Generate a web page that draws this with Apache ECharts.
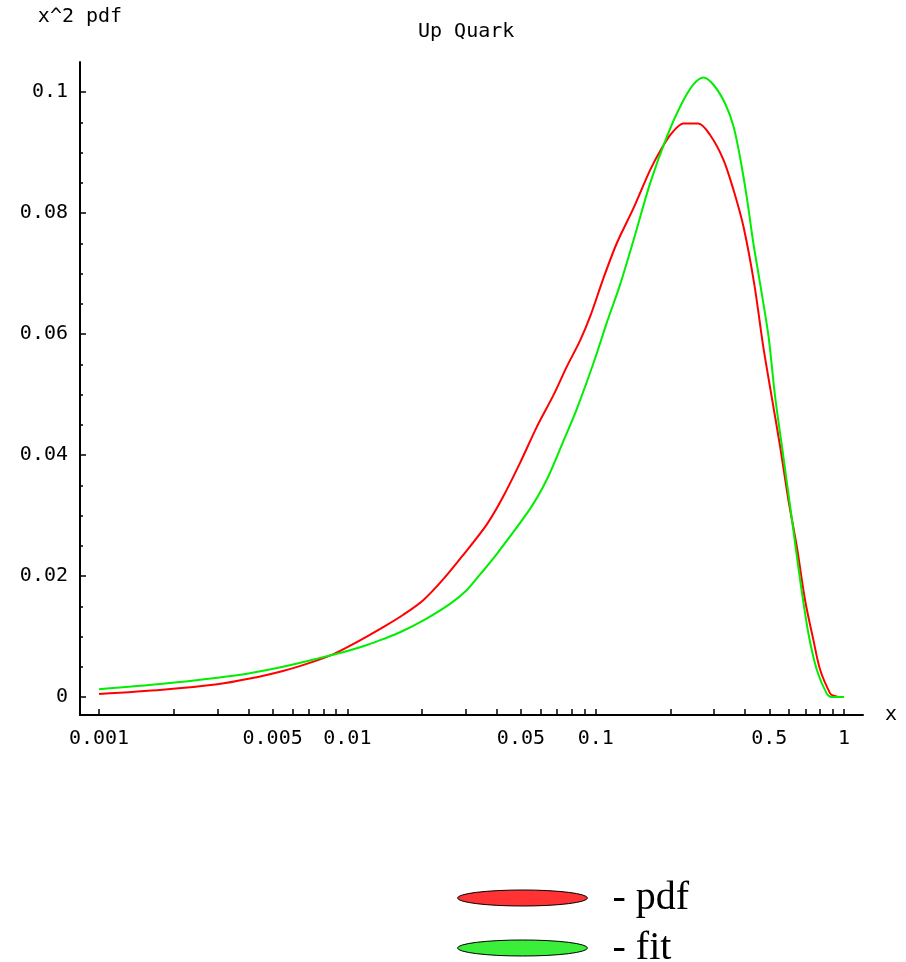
<!DOCTYPE html>
<html>
<head>
<meta charset="utf-8">
<script src="https://cdn.jsdelivr.net/npm/echarts@6/dist/echarts.min.js"></script>
<style>
html,body{margin:0;padding:0;background:#fff;}
#chart{width:906px;height:962px;}
</style>
</head>
<body>
<div id="chart"></div>
<script>
// ---- data ----
const titleText = 'Up Quark';
const yName = 'x^2 pdf';
const xName = 'x';
const seriesNames = ['pdf', 'fit'];

const pdfX = [0.001, 0.0018, 0.003, 0.004, 0.0055, 0.007, 0.0088, 0.0104, 0.014, 0.0168, 0.0202, 0.0245, 0.0293, 0.0364, 0.042, 0.0496, 0.058, 0.0676, 0.0765, 0.0865, 0.095, 0.1074, 0.1216, 0.142, 0.1656, 0.1845, 0.2024, 0.2255, 0.259, 0.289, 0.327, 0.359, 0.394, 0.435, 0.473, 0.5115, 0.553, 0.597, 0.646, 0.697, 0.753, 0.8015, 0.879, 0.906, 0.95];
const pdfY = [0.0005, 0.0012, 0.0021, 0.003, 0.0043, 0.0056, 0.0071, 0.0086, 0.0116, 0.0136, 0.016, 0.0196, 0.0235, 0.0285, 0.0328, 0.0387, 0.0447, 0.0499, 0.0546, 0.0589, 0.0629, 0.0692, 0.075, 0.0808, 0.0871, 0.0907, 0.0932, 0.0948, 0.0948, 0.0929, 0.0888, 0.0838, 0.0777, 0.0683, 0.0579, 0.0496, 0.0414, 0.0326, 0.0248, 0.016, 0.0094, 0.0045, 0.0006, 0.0002, 0];

const fitX = [0.001, 0.0018, 0.003, 0.004, 0.0055, 0.0075, 0.01, 0.012, 0.014, 0.0163, 0.0205, 0.0259, 0.0303, 0.0343, 0.0387, 0.0544, 0.0635, 0.0741, 0.0839, 0.098, 0.1107, 0.125, 0.142, 0.1656, 0.1933, 0.219, 0.247, 0.2716, 0.298, 0.332, 0.359, 0.381, 0.4056, 0.4315, 0.459, 0.4966, 0.528, 0.57, 0.617, 0.666, 0.719, 0.777, 0.851, 0.891, 1.0];
const fitY = [0.0013, 0.0022, 0.0032, 0.0039, 0.005, 0.0063, 0.0076, 0.0086, 0.0096, 0.0107, 0.0128, 0.0154, 0.0177, 0.0203, 0.0229, 0.0311, 0.0359, 0.0423, 0.0476, 0.0552, 0.0618, 0.068, 0.0755, 0.0849, 0.0926, 0.0976, 0.1012, 0.1024, 0.1012, 0.0981, 0.0943, 0.0893, 0.0827, 0.075, 0.0684, 0.0596, 0.0496, 0.0397, 0.0293, 0.0193, 0.0105, 0.0045, 0.0006, 0, 0];

// tick labels / tick positions
const xLabelValues = [0.001, 0.005, 0.01, 0.05, 0.1, 0.5, 1];
const xTickValues = [0.001, 0.002, 0.003, 0.004, 0.005, 0.006, 0.007, 0.008, 0.009,
                     0.01, 0.02, 0.03, 0.04, 0.05, 0.06, 0.07, 0.08, 0.09,
                     0.1, 0.2, 0.3, 0.4, 0.5, 0.6, 0.7, 0.8, 0.9, 1];
const yLabelValues = [0, 0.02, 0.04, 0.06, 0.08, 0.1];
const yMinorTickValues = [0.005, 0.01, 0.015, 0.025, 0.03, 0.035, 0.045, 0.05, 0.055, 0.065, 0.07, 0.075, 0.085, 0.09, 0.095];

// ---- chart ----
const mono = '"DejaVu Sans Mono", "Liberation Mono", monospace';
const serif = '"Liberation Serif", "Times New Roman", serif';
const xMin = 0.000838, xMax = 1.1926;
const yMin = -0.002975, yMax = 0.10496;
const legendColors = ['#ff3333', '#3aee3a'];

function zip(xs, ys) { return xs.map((x, i) => [x, ys[i]]); }
function legendFor(i, top) {
  return {
    left: 457, top: top, padding: 0,
    itemWidth: 130, itemHeight: 16,
    icon: 'path://M0,16 A130,16 0 1,1 260,16 A130,16 0 1,1 0,16 Z',
    formatter: '  - {name}',
    textStyle: {fontFamily: serif, fontSize: 40, color: '#000'},
    data: [{name: seriesNames[i], itemStyle: {color: legendColors[i], borderColor: '#000', borderWidth: 1}}]
  };
}

const chart = echarts.init(document.getElementById('chart'), null, {renderer: 'canvas'});
chart.setOption({
  animation: false,
  backgroundColor: '#ffffff',
  title: {
    text: titleText, left: 418, top: 22, padding: 0,
    textStyle: {fontFamily: mono, fontSize: 20, fontWeight: 'normal', color: '#000'}
  },
  grid: {left: 80, right: 43, top: 62, bottom: 247, containLabel: false, outerBoundsMode: 'none'},
  legend: [legendFor(0, 878), legendFor(1, 928)],
  xAxis: {
    type: 'log', min: xMin, max: xMax,
    name: xName, nameLocation: 'end', nameGap: 22,
    nameTextStyle: {fontFamily: mono, fontSize: 20, color: '#000', verticalAlign: 'middle'},
    axisLine: {show: true, onZero: false, lineStyle: {color: '#000', width: 2}},
    axisTick: {show: true, inside: true, length: 6, customValues: xTickValues, lineStyle: {color: '#000', width: 1.5}},
    axisLabel: {show: true, customValues: xLabelValues, margin: 14, fontFamily: mono, fontSize: 20, color: '#000',
      formatter: v => String(v)},
    splitLine: {show: false},
    minorTick: {show: false}
  },
  yAxis: [{
    type: 'value', min: yMin, max: yMax, position: 'left',
    name: yName, nameLocation: 'end', nameGap: 45,
    nameTextStyle: {fontFamily: mono, fontSize: 20, color: '#000', align: 'center', verticalAlign: 'middle'},
    axisLine: {show: true, onZero: false, lineStyle: {color: '#000', width: 2}},
    axisTick: {show: true, inside: true, length: 6, customValues: yLabelValues, lineStyle: {color: '#000', width: 1.5}},
    axisLabel: {show: true, customValues: yLabelValues, margin: 12, fontFamily: mono, fontSize: 20, color: '#000',
      formatter: v => String(+v.toFixed(4))},
    splitLine: {show: false}
  }, {
    type: 'value', min: yMin, max: yMax, position: 'left', offset: 0,
    axisLine: {show: false},
    axisTick: {show: true, inside: true, length: 3, customValues: yMinorTickValues, lineStyle: {color: '#000', width: 1.5}},
    axisLabel: {show: false},
    splitLine: {show: false}
  }],
  series: [
    {name: seriesNames[0], type: 'line', data: zip(pdfX, pdfY), yAxisIndex: 0, showSymbol: false, smooth: 0.3,
     lineStyle: {color: '#ff0000', width: 2}, itemStyle: {color: '#ff0000'}, z: 2},
    {name: seriesNames[1], type: 'line', data: zip(fitX, fitY), yAxisIndex: 0, showSymbol: false, smooth: 0.3,
     lineStyle: {color: '#00ee00', width: 2}, itemStyle: {color: '#00ee00'}, z: 3}
  ]
});
</script>
</body>
</html>
